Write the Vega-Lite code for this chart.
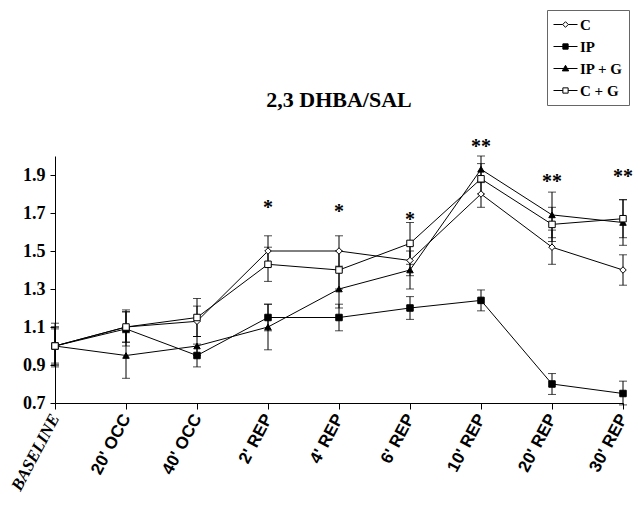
{
  "$schema": "https://vega.github.io/schema/vega-lite/v6.json",
  "width": 568,
  "height": 247,
  "autosize": "none",
  "padding": {"left": 55, "top": 156, "right": 15, "bottom": 107},
  "background": "white",
  "config": {"view": {"stroke": null}, "font": "Liberation Serif", "title": {"font": "Liberation Serif", "fontWeight": "bold"}},
  "title": {"text": "2,3 DHBA/SAL", "fontSize": 22, "fontWeight": "bold", "font": "Liberation Serif", "offset": -102, "color": "black"},
  "datasets": {
    "series": [
      {"series": "C", "time": "BASELINE", "value": 1.0, "lo": 0.9, "hi": 1.1},
      {"series": "C", "time": "20' OCC", "value": 1.1, "lo": 1.02, "hi": 1.18},
      {"series": "C", "time": "40' OCC", "value": 1.13, "lo": 1.05, "hi": 1.21},
      {"series": "C", "time": "2' REP", "value": 1.5, "lo": 1.42, "hi": 1.58},
      {"series": "C", "time": "4' REP", "value": 1.5, "lo": 1.42, "hi": 1.58},
      {"series": "C", "time": "6' REP", "value": 1.45, "lo": 1.37, "hi": 1.53},
      {"series": "C", "time": "10' REP", "value": 1.8, "lo": 1.73, "hi": 1.87},
      {"series": "C", "time": "20' REP", "value": 1.52, "lo": 1.43, "hi": 1.61},
      {"series": "C", "time": "30' REP", "value": 1.4, "lo": 1.32, "hi": 1.48},
      {"series": "IP", "time": "BASELINE", "value": 1.0, "lo": 0.89, "hi": 1.12},
      {"series": "IP", "time": "20' OCC", "value": 1.09, "lo": 1.0, "hi": 1.18},
      {"series": "IP", "time": "40' OCC", "value": 0.95, "lo": 0.89, "hi": 1.01},
      {"series": "IP", "time": "2' REP", "value": 1.15, "lo": 1.08, "hi": 1.22},
      {"series": "IP", "time": "4' REP", "value": 1.15, "lo": 1.08, "hi": 1.22},
      {"series": "IP", "time": "6' REP", "value": 1.2, "lo": 1.14, "hi": 1.26},
      {"series": "IP", "time": "10' REP", "value": 1.24, "lo": 1.185, "hi": 1.295},
      {"series": "IP", "time": "20' REP", "value": 0.8, "lo": 0.745, "hi": 0.855},
      {"series": "IP", "time": "30' REP", "value": 0.75, "lo": 0.69, "hi": 0.815},
      {"series": "IP + G", "time": "BASELINE", "value": 1.0, "lo": 0.91, "hi": 1.09},
      {"series": "IP + G", "time": "20' OCC", "value": 0.95, "lo": 0.83, "hi": 1.07},
      {"series": "IP + G", "time": "40' OCC", "value": 1.0, "lo": 0.95, "hi": 1.05},
      {"series": "IP + G", "time": "2' REP", "value": 1.1, "lo": 0.98, "hi": 1.22},
      {"series": "IP + G", "time": "4' REP", "value": 1.3, "lo": 1.2, "hi": 1.4},
      {"series": "IP + G", "time": "6' REP", "value": 1.4, "lo": 1.3, "hi": 1.5},
      {"series": "IP + G", "time": "10' REP", "value": 1.93, "lo": 1.86, "hi": 2.0},
      {"series": "IP + G", "time": "20' REP", "value": 1.69, "lo": 1.57, "hi": 1.81},
      {"series": "IP + G", "time": "30' REP", "value": 1.65, "lo": 1.53, "hi": 1.77},
      {"series": "C + G", "time": "BASELINE", "value": 1.0, "lo": 0.9, "hi": 1.1},
      {"series": "C + G", "time": "20' OCC", "value": 1.1, "lo": 1.02, "hi": 1.19},
      {"series": "C + G", "time": "40' OCC", "value": 1.15, "lo": 1.05, "hi": 1.25},
      {"series": "C + G", "time": "2' REP", "value": 1.43, "lo": 1.34, "hi": 1.52},
      {"series": "C + G", "time": "4' REP", "value": 1.4, "lo": 1.3, "hi": 1.5},
      {"series": "C + G", "time": "6' REP", "value": 1.54, "lo": 1.43, "hi": 1.65},
      {"series": "C + G", "time": "10' REP", "value": 1.88, "lo": 1.8, "hi": 1.96},
      {"series": "C + G", "time": "20' REP", "value": 1.64, "lo": 1.55, "hi": 1.73},
      {"series": "C + G", "time": "30' REP", "value": 1.67, "lo": 1.57, "hi": 1.77}
    ],
    "stars": [
      {"time": "2' REP", "y": 1.727, "label": "*"},
      {"time": "4' REP", "y": 1.707, "label": "*"},
      {"time": "6' REP", "y": 1.663, "label": "*"},
      {"time": "10' REP", "y": 2.05, "label": "**"},
      {"time": "20' REP", "y": 1.865, "label": "**"},
      {"time": "30' REP", "y": 1.89, "label": "**"}
    ]
  },
  "encoding": {
    "x": {
      "field": "time",
      "type": "nominal",
      "sort": null,
      "scale": {"type": "point", "padding": 0, "domain": ["BASELINE", "20' OCC", "40' OCC", "2' REP", "4' REP", "6' REP", "10' REP", "20' REP", "30' REP"]},
      "axis": {
        "title": null, "labelAngle": -62, "labelAlign": "right", "labelBaseline": "middle",
        "labelFont": {"condition": {"test": "datum.value == 'BASELINE'", "value": "Liberation Serif"}, "value": "Liberation Sans"},
        "labelFontStyle": {"condition": {"test": "datum.value == 'BASELINE'", "value": "italic"}, "value": "normal"},
        "labelFontWeight": "bold",
        "labelFontSize": 17,
        "labelColor": "black", "domainColor": "black", "tickColor": "black", "tickSize": 6, "labelPadding": 6, "grid": false, "labelOverlap": false, "labelBound": false, "labelFlush": false
      }
    }
  },
  "layer": [
    {
      "data": {"name": "series"},
      "mark": {"type": "errorbar", "color": "black", "thickness": 1, "ticks": {"size": 8, "color": "black"}},
      "encoding": {
        "y": {"field": "lo", "type": "quantitative", "scale": {"domain": [0.7, 2.0], "nice": false, "zero": false},
          "axis": {"title": null, "values": [0.7, 0.9, 1.1, 1.3, 1.5, 1.7, 1.9], "format": ".1f", "grid": false, "labelFont": "Liberation Serif", "labelFontWeight": "bold", "labelFontSize": 18, "labelColor": "black", "domainColor": "black", "tickColor": "black", "tickSize": 5, "labelPadding": 5}},
        "y2": {"field": "hi"}
      }
    },
    {
      "data": {"name": "series"},
      "mark": {"type": "line", "color": "black", "strokeWidth": 1},
      "encoding": {
        "y": {"field": "value", "type": "quantitative"},
        "detail": {"field": "series"}
      }
    },
    {
      "data": {"name": "series"},
      "mark": {"type": "point", "filled": true, "stroke": "black", "strokeWidth": 1, "size": 42, "opacity": 1},
      "encoding": {
        "y": {"field": "value", "type": "quantitative"},
        "shape": {"field": "series", "type": "nominal", "scale": {"domain": ["C", "IP", "IP + G", "C + G"], "range": ["diamond", "square", "triangle-up", "square"]}, "legend": null},
        "fill": {"field": "series", "type": "nominal", "scale": {"domain": ["C", "IP", "IP + G", "C + G"], "range": ["white", "black", "black", "white"]}, "legend": null}
      }
    },
    {
      "data": {"name": "series"},
      "mark": {"type": "point", "filled": true, "stroke": "black", "strokeWidth": 1, "size": 256, "opacity": 0},
      "encoding": {
        "y": {"field": "value", "type": "quantitative"},
        "shape": {"field": "series", "type": "nominal",
          "scale": {"domain": ["C", "IP", "IP + G", "C + G"], "range": ["M-1,0H0.15M0.85,0H2M0.5,-0.35L0.85,0L0.5,0.35L0.15,0Z", "M-1,0H2M0.17,-0.33H0.83V0.33H0.17Z", "M-1,0H2M0.5,-0.4L0.9,0.3H0.1Z", "M-1,0H0.17M0.83,0H2M0.17,-0.33H0.83V0.33H0.17Z"]},
          "legend": {"title": null, "orient": "none", "legendX": 492, "legendY": -146, "strokeColor": "#666", "fillColor": "white", "padding": 6, "labelFont": "Liberation Serif", "labelFontWeight": "bold", "labelFontSize": 15, "labelColor": "black", "symbolSize": 256, "symbolStrokeWidth": 1, "symbolStrokeColor": "black", "rowPadding": 5, "labelOffset": 10,
            "encode": {"symbols": {"update": {"opacity": {"value": 1}}}}}},
        "fill": {"field": "series", "type": "nominal",
          "scale": {"domain": ["C", "IP", "IP + G", "C + G"], "range": ["white", "black", "black", "white"]},
          "legend": {"title": null, "orient": "none", "legendX": 492, "legendY": -146, "strokeColor": "#666", "fillColor": "white", "padding": 6, "labelFont": "Liberation Serif", "labelFontWeight": "bold", "labelFontSize": 15, "labelColor": "black", "symbolSize": 256, "symbolStrokeWidth": 1, "symbolStrokeColor": "black", "rowPadding": 5, "labelOffset": 10,
            "encode": {"symbols": {"update": {"opacity": {"value": 1}}}}}}
      }
    },
    {
      "data": {"name": "stars"},
      "mark": {"type": "text", "font": "Liberation Serif", "fontWeight": "bold", "fontSize": 20, "baseline": "middle", "color": "black"},
      "encoding": {
        "y": {"field": "y", "type": "quantitative"},
        "text": {"field": "label"}
      }
    }
  ],
  "resolve": {"scale": {"shape": "independent", "fill": "independent"}}
}
